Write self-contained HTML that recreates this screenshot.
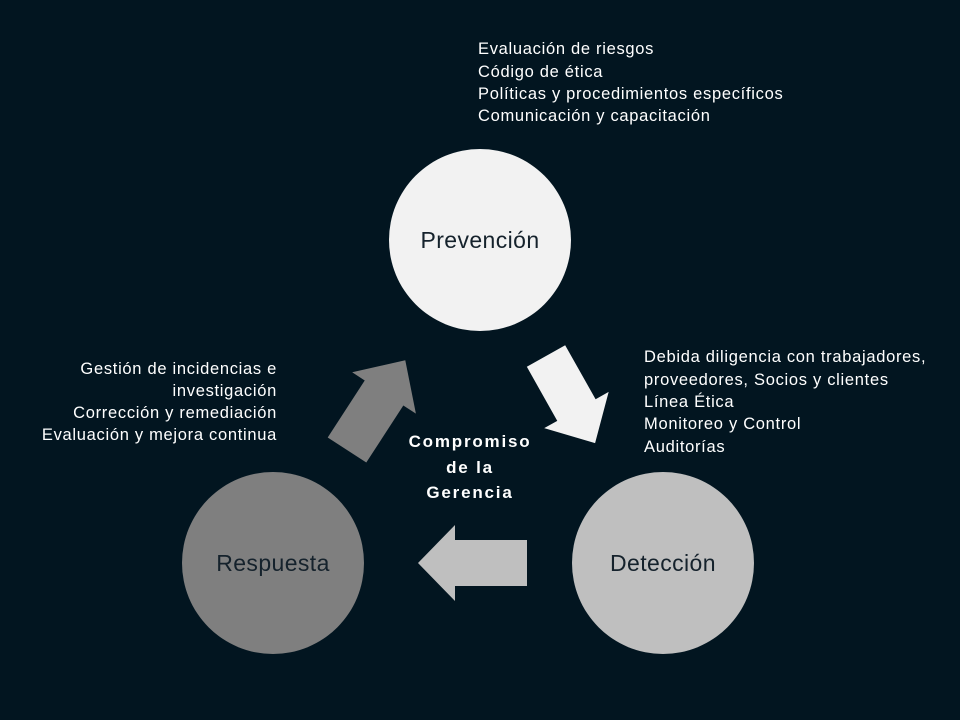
<!DOCTYPE html>
<html><head><meta charset="utf-8"><style>
html,body{margin:0;padding:0;background:#021520;}
svg{display:block}
text{font-family:"Liberation Sans",sans-serif;}
</style></head><body>
<svg width="960" height="720" viewBox="0 0 960 720" xmlns="http://www.w3.org/2000/svg">
<rect width="960" height="720" fill="#021520"/>
<circle cx="480" cy="240" r="91" fill="#f2f2f2"/>
<circle cx="663" cy="563" r="91" fill="#bfbfbf"/>
<circle cx="273" cy="563" r="91" fill="#7f7f7f"/>
<g font-size="23" fill="#15222c" text-anchor="middle" letter-spacing="0.4">
<text x="480" y="248">Prevención</text>
<text x="663" y="571">Detección</text>
<text x="273" y="571">Respuesta</text>
</g>
<g transform="translate(546,356) rotate(60.6)">
<polygon points="0,-22 62,-22 62,-37 100,0 62,37 62,22 0,22" fill="#f2f2f2"/>
</g>
<g transform="translate(347,450) rotate(-57)">
<polygon points="0,-23 68,-23 68,-38 107,0 68,38 68,23 0,23" fill="#7f7f7f"/>
</g>
<g transform="translate(527,563) rotate(180)">
<polygon points="0,-23 72,-23 72,-38 109,0 72,38 72,23 0,23" fill="#bfbfbf"/>
</g>
<g font-size="16.5" fill="#ffffff" letter-spacing="0.7">
<text x="478" y="54">Evaluación de riesgos</text>
<text x="478" y="77">Código de ética</text>
<text x="478" y="99">Políticas y procedimientos específicos</text>
<text x="478" y="121">Comunicación y capacitación</text>
<text x="644" y="362">Debida diligencia con trabajadores,</text>
<text x="644" y="385">proveedores, Socios y clientes</text>
<text x="644" y="407">Línea Ética</text>
<text x="644" y="429">Monitoreo y Control</text>
<text x="644" y="452">Auditorías</text>
</g>
<g font-size="16.5" fill="#ffffff" text-anchor="end" letter-spacing="0.7">
<text x="277" y="374">Gestión de incidencias e</text>
<text x="277" y="396">investigación</text>
<text x="277" y="418">Corrección y remediación</text>
<text x="277" y="440">Evaluación y mejora continua</text>
</g>
<g font-size="17" font-weight="bold" fill="#ffffff" text-anchor="middle" letter-spacing="1.8">
<text x="470" y="447">Compromiso</text>
<text x="470" y="473">de la</text>
<text x="470" y="498">Gerencia</text>
</g>
</svg>
</body></html>
